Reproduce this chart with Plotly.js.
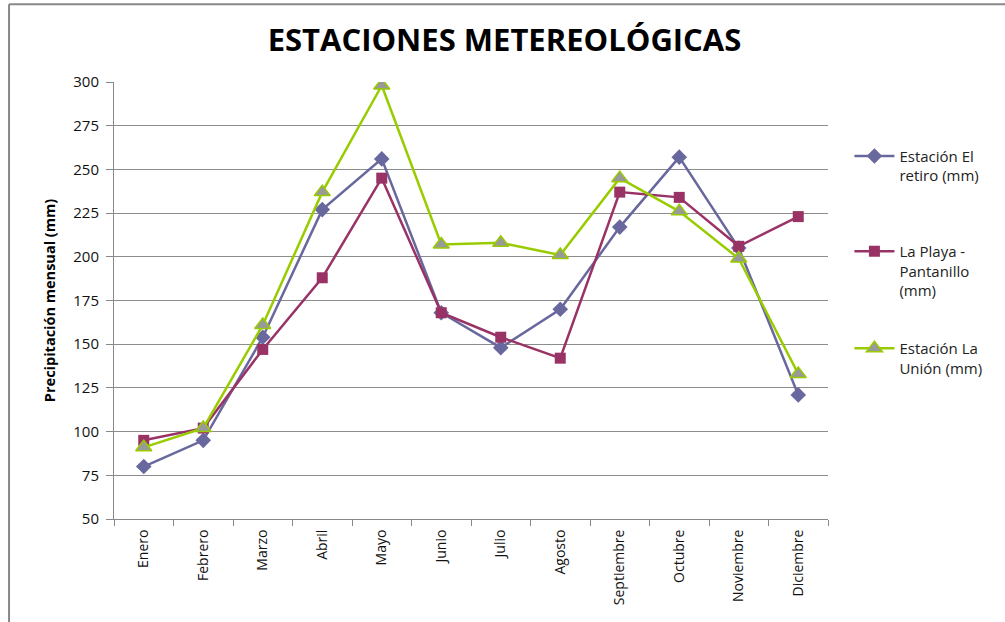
<!DOCTYPE html>
<html>
<head>
<meta charset="utf-8">
<script src="https://cdn.plot.ly/plotly-3.0.1.min.js"></script>
<style>html,body{margin:0;padding:0;background:#fff;}#chart{width:1005px;height:622px;}</style>
</head>
<body>
<div id="chart"></div>
<script>
const months = ["Enero","Febrero","Marzo","Abril","Mayo","Junio","Julio","Agosto","Septiembre","Octubre","Noviembre","Diciembre"];
const elRetiro = [80, 95, 154, 227, 256, 168, 148, 170, 217, 257, 205, 121];
const laPlaya = [95, 102, 147, 188, 245, 168, 154, 142, 237, 234, 206, 223];
const laUnion = [91, 102, 161, 237, 298, 207, 208, 201, 245, 226, 199, 133];
const yTicks = [50, 75, 100, 125, 150, 175, 200, 225, 250, 275, 300];

const FONT = "Open Sans, Liberation Sans, sans-serif";

const traces = [
  {x: months, y: elRetiro, name: "Estación El<br>retiro (mm)", mode: "lines+markers", legend: "legend",
   line: {color: "#68689E", width: 2.5},
   marker: {symbol: "diamond", size: 12, color: "#68689E"}},
  {x: months, y: laPlaya, name: "La Playa -<br>Pantanillo<br>(mm)", mode: "lines+markers", legend: "legend2",
   line: {color: "#993366", width: 2.5},
   marker: {symbol: "square", size: 11, color: "#993366"}},
  {x: months, y: laUnion, name: "Estación La<br>Unión (mm)", mode: "lines+markers", legend: "legend3",
   line: {color: "#99CC00", width: 2.5},
   marker: {symbol: "triangle-up", size: 14, color: "#999999", line: {color: "#99CC00", width: 1.5}}}
];

const legBase = {xref: "paper", yref: "paper", x: 1.03, xanchor: "left", yanchor: "top",
  bgcolor: "rgba(0,0,0,0)", font: {family: FONT, size: 15, color: "#222"}, valign: "top",
  itemwidth: 40, tracegroupgap: 0};

const layout = {
  width: 1005, height: 622,
  margin: {l: 114, r: 177, t: 82, b: 103},
  paper_bgcolor: "#fff", plot_bgcolor: "#fff",
  font: {family: FONT, size: 14, color: "#222"},
  title: {text: "<b>ESTACIONES METEREOLÓGICAS</b>", font: {family: FONT, size: 31, color: "#000"},
    x: 0.502, xanchor: "center", y: 0.935, yanchor: "middle"},
  showlegend: true,
  legend: Object.assign({}, legBase, {y: 0.868}),
  legend2: Object.assign({}, legBase, {y: 0.650}),
  legend3: Object.assign({}, legBase, {y: 0.428}),
  xaxis: {type: "category", categoryarray: months, tickangle: -90,
    showline: true, linecolor: "#888", linewidth: 1, showgrid: false,
    ticks: "outside", tickson: "boundaries", ticklen: 6, tickcolor: "#888",
    ticklabelstandoff: 4,
    tickfont: {family: FONT, size: 14, color: "#111"}, range: [-0.5, 11.5], fixedrange: true},
  yaxis: {range: [50, 300], tickvals: yTicks, ticktext: yTicks.map(String),
    showline: true, linecolor: "#888", linewidth: 1,
    showgrid: true, gridcolor: "#8c8c8c", gridwidth: 1,
    ticks: "outside", ticklen: 7, tickcolor: "#888",
    ticklabelstandoff: 4,
    tickfont: {family: FONT, size: 15, color: "#111"},
    title: {text: "<b>Precipitación mensual (mm)</b>", font: {family: FONT, size: 14.5, color: "#000"}, standoff: 14},
    zeroline: false, fixedrange: true},
  shapes: [
    {type: "line", xref: "paper", yref: "paper", x0: -0.147, x1: -0.147, y0: -0.3, y1: 1.178,
     line: {color: "#888", width: 2}},
    {type: "line", xref: "paper", yref: "paper", x0: -0.147, x1: 1.3, y0: 1.178, y1: 1.178,
     line: {color: "#888", width: 2}}
  ]
};

Plotly.newPlot("chart", traces, layout, {displayModeBar: false, staticPlot: true});
</script>
</body>
</html>
